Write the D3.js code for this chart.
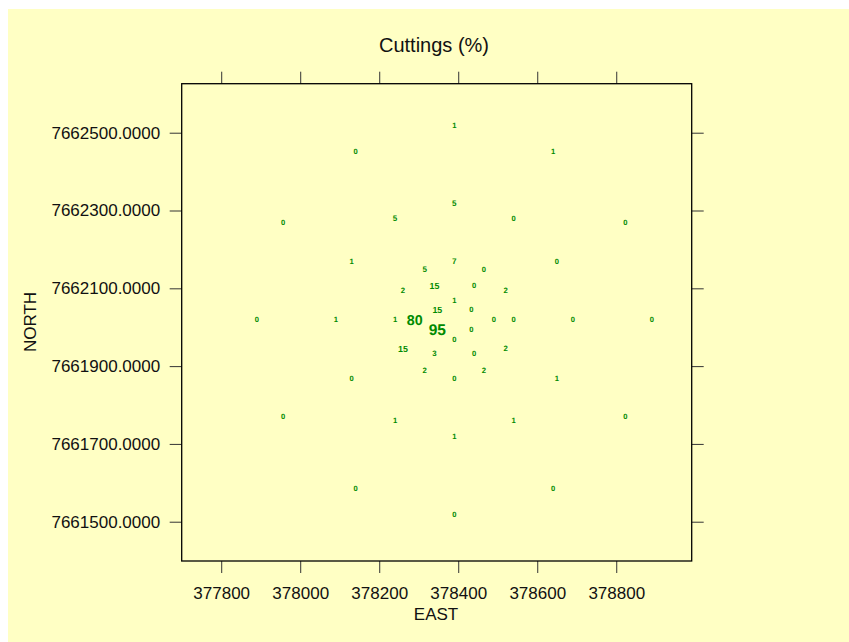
<!DOCTYPE html>
<html>
<head>
<meta charset="utf-8">
<script src="https://cdn.jsdelivr.net/npm/d3@7"></script>
<style>
  html, body { margin: 0; padding: 0; background: #ffffff; }
  svg { display: block; font-family: "Liberation Sans", Arial, sans-serif; }
  .vals text { text-rendering: geometricPrecision; }
</style>
</head>
<body>
<div id="chart"></div>
<script>
// sample locations (EAST, NORTH) and cuttings (%)
const east = [
  378390, 378640, 378823, 378890, 378823, 378640, 378390, 378140, 377957, 377890, 377957, 378140,
  378390, 378540, 378650, 378690, 378650, 378540, 378390, 378240, 378130, 378090, 378130, 378240,
  378390, 378465, 378520, 378540, 378520, 378465, 378390, 378315, 378260, 378240, 378260, 378315,
  378440, 378490, 378440, 378340, 378290, 378340,
  378390, 378433, 378433, 378390, 378347, 378347
];
const north = [
  7662520, 7662453, 7662270, 7662020, 7661770, 7661587, 7661520, 7661587, 7661770, 7662020, 7662270, 7662453,
  7662320, 7662280, 7662170, 7662020, 7661870, 7661760, 7661720, 7661760, 7661870, 7662020, 7662170, 7662280,
  7662170, 7662150, 7662095, 7662020, 7661945, 7661890, 7661870, 7661890, 7661945, 7662020, 7662095, 7662150,
  7662107, 7662020, 7661933, 7661933, 7662020, 7662107,
  7662070, 7662045, 7661995, 7661970, 7661995, 7662045
];
const cuttings = [
  1, 1, 0, 0, 0, 0, 0, 0, 0, 0, 0, 0,
  5, 0, 0, 0, 1, 1, 1, 1, 0, 1, 1, 5,
  7, 0, 2, 0, 2, 2, 0, 2, 15, 1, 2, 5,
  0, 0, 0, 3, 80, 15,
  1, 0, 0, 0, 95, 15
];
const eastTicks = [377800, 378000, 378200, 378400, 378600, 378800];
const northTicks = [7661500, 7661700, 7661900, 7662100, 7662300, 7662500];

const width = 849, height = 642;
const panel = { left: 181.7, right: 691.7, top: 83.7, bottom: 561 };

const svg = d3.select("#chart").append("svg")
  .attr("width", width)
  .attr("height", height);

svg.append("rect")
  .attr("x", 8).attr("y", 9)
  .attr("width", width - 8).attr("height", height - 9)
  .attr("fill", "#ffffc4");

const x = d3.scaleLinear([377700, 378991], [panel.left, panel.right]);
const y = d3.scaleLinear([7661399, 7662626], [panel.bottom, panel.top]);
const size = d3.scaleLinear([0, 95], [7.6, 15.5]);

const data = east.map((e, i) => ({ east: e, north: north[i], value: cuttings[i] }));

// axes: labelled left/bottom, bare ticks top/right
const tickStyle = g => {
  g.select(".domain").remove();
  g.selectAll(".tick line").attr("stroke", "#333").attr("stroke-width", 1);
  g.selectAll("text").attr("fill", "#111").attr("font-size", 17).attr("font-family", null);
};

svg.append("g")
  .attr("transform", `translate(${panel.left},0)`)
  .call(d3.axisLeft(y).tickValues(northTicks).tickFormat(d3.format(".4f")).tickSize(12).tickPadding(9.5))
  .call(tickStyle);

svg.append("g")
  .attr("transform", `translate(0,${panel.bottom})`)
  .call(d3.axisBottom(x).tickValues(eastTicks).tickFormat(d3.format("d")).tickSize(12).tickPadding(14))
  .call(tickStyle);

svg.append("g")
  .attr("transform", `translate(0,${panel.top})`)
  .call(d3.axisTop(x).tickValues(eastTicks).tickFormat("").tickSize(12))
  .call(tickStyle);

svg.append("g")
  .attr("transform", `translate(${panel.right},0)`)
  .call(d3.axisRight(y).tickValues(northTicks).tickFormat("").tickSize(12))
  .call(tickStyle);

svg.append("rect")
  .attr("x", panel.left).attr("y", panel.top)
  .attr("width", panel.right - panel.left)
  .attr("height", panel.bottom - panel.top)
  .attr("fill", "none")
  .attr("stroke", "#000")
  .attr("stroke-width", 1.3);

// value labels, size grows with the value
svg.append("g")
  .attr("class", "vals")
  .selectAll("text")
  .data(data)
  .join("text")
    .attr("x", d => x(d.east))
    .attr("y", d => y(d.north))
    .attr("dy", "0.36em")
    .attr("text-anchor", "middle")
    .attr("font-weight", "bold")
    .attr("font-size", d => size(d.value))
    .attr("fill", "#008a00")
    .text(d => d.value);

// titles
svg.append("text")
  .attr("x", 434).attr("y", 52)
  .attr("text-anchor", "middle")
  .attr("font-size", 20)
  .attr("fill", "#111")
  .text("Cuttings (%)");

svg.append("text")
  .attr("x", 436).attr("y", 620)
  .attr("text-anchor", "middle")
  .attr("font-size", 17)
  .attr("fill", "#111")
  .text("EAST");

svg.append("text")
  .attr("transform", "translate(36,322) rotate(-90)")
  .attr("text-anchor", "middle")
  .attr("font-size", 17)
  .attr("fill", "#111")
  .text("NORTH");
</script>
</body>
</html>
